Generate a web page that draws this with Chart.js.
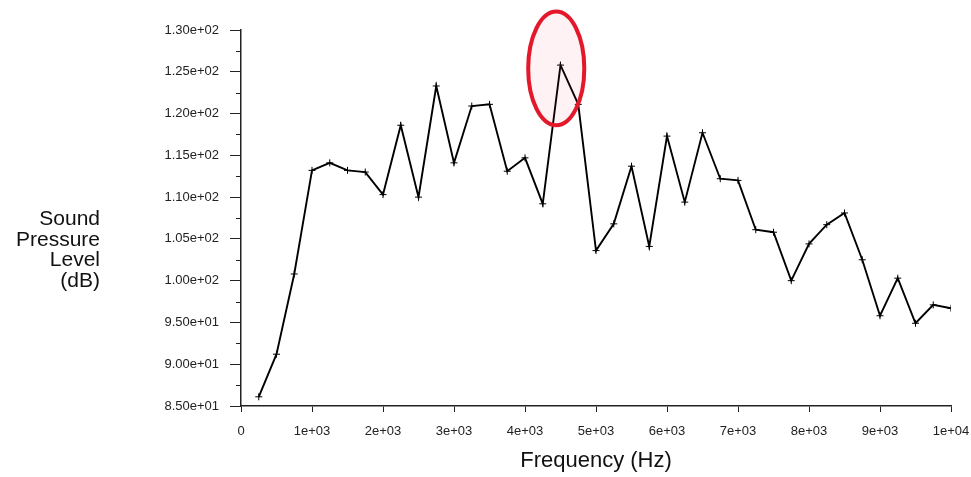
<!DOCTYPE html>
<html>
<head>
<meta charset="utf-8">
<script src="https://cdn.jsdelivr.net/npm/chart.js@4.4.1/dist/chart.umd.min.js"></script>
<style>
  html, body { margin: 0; padding: 0; background: #fff; }
  #spl-chart { display: block; }
</style>
</head>
<body>
<canvas id="spl-chart" width="971" height="477"></canvas>
<script>
// Частоты (Гц) и уровни звукового давления (дБ)
const frequencies = [
  250, 500, 750, 1000, 1250, 1500, 1750, 2000, 2250, 2500,
  2750, 3000, 3250, 3500, 3750, 4000, 4250, 4500, 4750, 5000,
  5250, 5500, 5750, 6000, 6250, 6500, 6750, 7000, 7250, 7500,
  7750, 8000, 8250, 8500, 8750, 9000, 9250, 9500, 9750, 10000
];
const splValues = [
  86.1, 91.2, 100.8, 113.2, 114.1, 113.2, 113.0, 110.3, 118.6, 110.0,
  123.3, 114.1, 120.9, 121.1, 113.1, 114.7, 109.2, 125.8, 121.1, 103.6,
  106.8, 113.7, 104.1, 117.3, 109.4, 117.7, 112.2, 112.0, 106.1, 105.8,
  100.0, 104.4, 106.7, 108.1, 102.5, 95.8, 100.3, 94.9, 97.1, 96.7
];

// Оси
const xTicks = [0, 1000, 2000, 3000, 4000, 5000, 6000, 7000, 8000, 9000, 10000];
const yMajorTicks = [85, 90, 95, 100, 105, 110, 115, 120, 125, 130];
const yMinorTicks = [87.5, 92.5, 97.5, 102.5, 107.5, 112.5, 117.5, 122.5, 127.5];
const yTitleLines = ['Sound', 'Pressure', 'Level', '(dB)'];
const xTitle = 'Frequency (Hz)';

// Красный овал вокруг пика (в единицах данных)
const highlight = { x: 4440, y: 125.4, rx: 395, ry: 6.8 };

const FONT = '"Liberation Sans", Arial, sans-serif';
const AXIS_COLOR = '#222';

// Формат вида 1.30e+02 / 1e+03
function expLabel(value, digits) {
  if (value === 0) return '0';
  const [mant, exp] = value.toExponential(digits).split('e');
  const sign = exp[0] === '-' ? '-' : '+';
  const num = Math.abs(parseInt(exp, 10));
  return `${mant}e${sign}${String(num).padStart(2, '0')}`;
}

// Плагин: мелкие риски, подпись оси Y и овал
const extrasPlugin = {
  id: 'extras',
  afterDraw(chart) {
    const { ctx, scales: { x, y } } = chart;
    ctx.save();

    // Мелкие риски на оси Y
    ctx.strokeStyle = AXIS_COLOR;
    ctx.lineWidth = 1;
    yMinorTicks.forEach(v => {
      const py = Math.round(y.getPixelForValue(v)) + 0.5;
      ctx.beginPath();
      ctx.moveTo(y.right - 5, py);
      ctx.lineTo(y.right, py);
      ctx.stroke();
    });

    // Подпись оси Y (горизонтальная, в несколько строк)
    ctx.fillStyle = '#111';
    ctx.font = `21px ${FONT}`;
    ctx.textAlign = 'right';
    ctx.textBaseline = 'middle';
    const midY = (chart.chartArea.top + chart.chartArea.bottom) / 2 + 32;
    const lineH = 20.5;
    yTitleLines.forEach((line, i) => {
      ctx.fillText(line, 100, midY + (i - (yTitleLines.length - 1) / 2) * lineH);
    });

    // Овал
    const cx = x.getPixelForValue(highlight.x);
    const cy = y.getPixelForValue(highlight.y);
    const rx = x.getPixelForValue(highlight.x + highlight.rx) - cx;
    const ry = cy - y.getPixelForValue(highlight.y + highlight.ry);
    ctx.beginPath();
    ctx.ellipse(cx, cy, rx, ry, 0, 0, Math.PI * 2);
    ctx.fillStyle = 'rgba(230, 40, 70, 0.06)';
    ctx.fill();
    ctx.lineWidth = 4;
    ctx.strokeStyle = '#e3192b';
    ctx.stroke();

    ctx.restore();
  }
};

const ctx = document.getElementById('spl-chart').getContext('2d');
const chart = new Chart(ctx, {
  type: 'line',
  data: {
    datasets: [{
      label: 'SPL',
      data: frequencies.map((f, i) => ({ x: f, y: splValues[i] })),
      borderColor: '#000',
      borderWidth: 1.9,
      tension: 0,
      fill: false,
      pointStyle: 'cross',
      pointRadius: 3.5,
      pointBorderWidth: 1,
      pointBorderColor: '#000'
    }]
  },
  options: {
    responsive: false,
    animation: false,
    devicePixelRatio: 1,
    layout: { padding: { top: 30, right: 20, left: 0, bottom: 0 } },
    plugins: {
      legend: { display: false },
      tooltip: { enabled: false }
    },
    scales: {
      x: {
        type: 'linear',
        min: 0,
        max: 10000,
        afterFit: scale => {
          scale.height = 71;
          scale.paddingLeft = 0;
          scale.paddingRight = 0;
        },
        afterBuildTicks: scale => { scale.ticks = xTicks.map(v => ({ value: v })); },
        ticks: {
          callback: v => expLabel(v, 0),
          color: '#222',
          font: { family: FONT, size: 13 },
          padding: 12,
          maxRotation: 0,
          autoSkip: false
        },
        grid: {
          drawOnChartArea: false,
          drawTicks: true,
          tickLength: 6,
          tickColor: AXIS_COLOR,
          tickWidth: 1
        },
        border: { display: true, color: AXIS_COLOR, width: 1.5 },
        title: {
          display: true,
          text: xTitle,
          color: '#111',
          font: { family: FONT, size: 22 },
          padding: { top: 4, bottom: 3 }
        }
      },
      y: {
        min: 85,
        max: 130,
        afterFit: scale => {
          scale.width = 241;
          scale.paddingTop = 0;
          scale.paddingBottom = 0;
        },
        afterBuildTicks: scale => { scale.ticks = yMajorTicks.map(v => ({ value: v })); },
        ticks: {
          callback: v => expLabel(v, 2),
          color: '#222',
          font: { family: FONT, size: 13 },
          padding: 11,
          autoSkip: false
        },
        grid: {
          drawOnChartArea: false,
          drawTicks: true,
          tickLength: 11,
          tickColor: AXIS_COLOR,
          tickWidth: 1
        },
        border: { display: true, color: AXIS_COLOR, width: 1.5 }
      }
    }
  },
  plugins: [extrasPlugin]
});
</script>
</body>
</html>
